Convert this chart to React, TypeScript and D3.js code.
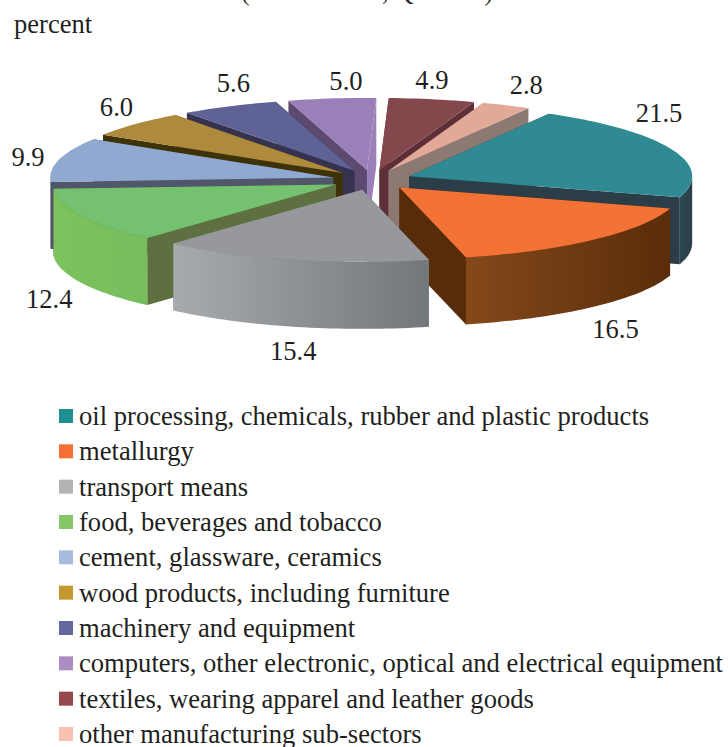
import React from 'react';
import * as d3 from 'd3';

const categories = [
  'oil processing, chemicals, rubber and plastic products',
  'metallurgy',
  'transport means',
  'food, beverages and tobacco',
  'cement, glassware, ceramics',
  'wood products, including furniture',
  'machinery and equipment',
  'computers, other electronic, optical and electrical equipment',
  'textiles, wearing apparel and leather goods',
  'other manufacturing sub-sectors',
];
const shares = [21.5, 16.5, 15.4, 12.4, 9.9, 6.0, 5.6, 5.0, 4.9, 2.8];
const topColors = ['#2f8a94', '#f37236', '#96989b', '#74c270', '#8fa9d0', '#ae8a3c', '#5f6295', '#9a7fb8', '#84474c', '#e2a898'];
const legendColors = ['#1f8f92', '#f47034', '#b1b3b5', '#86c868', '#a8bce0', '#c4982f', '#63679b', '#ab8cc0', '#964a4c', '#f8c0ad'];
const startWalls = ['#2b3d47', '#562c0b', '#7d8184', '#5e7040', '#51566a', '#3e3209', '#363350', '#5c4a70', '#5f2f38', '#8c7a72'];
const endWalls = ['#2b3d47', '#562c0b', '#7d8184', '#5e7040', '#51566a', '#3e3209', '#363350', '#9a7fb8', '#5f2f38', '#8c7a72'];
const outerLight = ['#2b4a55', '#84491a', '#a8abae', '#7cc25e', '#51566a', '#3e3209', '#363350', '#5c4a70', '#5f2f38', '#8c7a72'];
const outerDark = ['#2b3d47', '#5a2c0a', '#72777a', '#76bd5c', '#51566a', '#3e3209', '#363350', '#5c4a70', '#5f2f38', '#8c7a72'];
// nudge of each value label from the rim point of its slice
const labelNudge = [
  [-13, -34], [22, 92], [0, 94], [-32, 86], [-31, 0], [-19, -14], [4, -20], [14, -15], [0, -16], [20, -17],
];

const cx = 372;
const cy = 180;
const rx = 283;
const ry = 72;
const depth = 67;
const explode = 40;
const fontSize = 26.6;

const pie = d3.pie<number>().sort(null).value(d => d).startAngle((29.6 * Math.PI) / 180).endAngle((389.6 * Math.PI) / 180);
// d3 angles run clockwise from north, the same sense as the picture
const px = (a: number, r: number) => r * Math.sin(a);
const py = (a: number, r: number) => -r * Math.cos(a);

const slices = pie(shares).map((s, i) => {
  const mid = (s.startAngle + s.endAngle) / 2;
  const ax = cx + px(mid, explode);
  const ay = cy + py(mid, explode) * (ry / rx);
  return { i, ...s, mid, ax, ay };
});

// rim of a slice sampled as points on the tilted ellipse
const rim = (s: { startAngle: number; endAngle: number; ax: number; ay: number }, from = s.startAngle, to = s.endAngle) => {
  const n = Math.max(2, Math.ceil(Math.abs(to - from) * 40));
  return d3.range(n + 1).map(k => {
    const a = from + ((to - from) * k) / n;
    return [s.ax + px(a, rx), s.ay + py(a, ry)] as [number, number];
  });
};
const line = d3.line();

const App: React.FC = () => {
  const order = [...slices].sort((a, b) => py(a.mid, 1) - py(b.mid, 1));
  const legendY = d3.scalePoint<number>().domain(d3.range(categories.length)).range([416, 734]);
  return (
    <svg width={728} height={747} style={{ position: 'absolute', left: 0, top: 0, background: '#fff' }} fontFamily='"Liberation Serif", serif'>
      <defs>
        {slices.map(s => (
          <linearGradient key={s.i} id={`wall${s.i}`} gradientUnits="userSpaceOnUse"
            x1={s.ax + px(Math.max(s.startAngle, Math.PI / 2), rx)} y1={0} x2={s.ax + px(s.endAngle, rx)} y2={0}>
            <stop offset="0%" stopColor={outerDark[s.i]} />
            <stop offset="100%" stopColor={outerLight[s.i]} />
          </linearGradient>
        ))}
      </defs>
      {/* the title is cut by the top of the picture, only its lowest strokes show */}
      <text x={367} y={0} fontSize={fontSize} textAnchor="middle" fill="#333" textLength={252} lengthAdjust="spacingAndGlyphs">(EUR million, Q4 2014)</text>
      <text x={14} y={33} fontSize={fontSize} fill="#231f20">percent</text>
      {order.map(s => {
        const p0 = [s.ax + px(s.startAngle, rx), s.ay + py(s.startAngle, ry)];
        const p1 = [s.ax + px(s.endAngle, rx), s.ay + py(s.endAngle, ry)];
        const wall = (p: number[]) => line([[s.ax, s.ay], p as [number, number], [p[0], p[1] + depth], [s.ax, s.ay + depth]]) + 'Z';
        // only the part of the rim facing the viewer gets a wall
        const frontFrom = Math.max(s.startAngle, Math.PI / 2);
        const frontTo = Math.min(s.endAngle, (3 * Math.PI) / 2);
        const front = frontFrom < frontTo ? rim(s, frontFrom, frontTo) : null;
        return (
          <g key={s.i}>
            <path d={wall(p0)} fill={startWalls[s.i]} />
            <path d={wall(p1)} fill={endWalls[s.i]} />
            {front && (
              <path
                d={line([...front, ...[...front].reverse().map(([x, y]) => [x, y + depth] as [number, number])]) + 'Z'}
                fill={`url(#wall${s.i})`}
              />
            )}
            <path d={line([[s.ax, s.ay], ...rim(s)]) + 'Z'} fill={topColors[s.i]} />
          </g>
        );
      })}
      {slices.map(s => (
        <text key={s.i} x={s.ax + px(s.mid, rx) + labelNudge[s.i][0]} y={s.ay + py(s.mid, ry) + labelNudge[s.i][1]}
          fontSize={fontSize} textAnchor="middle" dominantBaseline="middle" fill="#231f20">
          {shares[s.i].toFixed(1)}
        </text>
      ))}
      {categories.map((c, i) => (
        <g key={c}>
          <rect x={59} y={(legendY(i) as number) - 7} width={14} height={14} fill={legendColors[i]} />
          <text x={79} y={(legendY(i) as number) + 9} fontSize={fontSize} fill="#231f20">{c}</text>
        </g>
      ))}
    </svg>
  );
};

export default App;
